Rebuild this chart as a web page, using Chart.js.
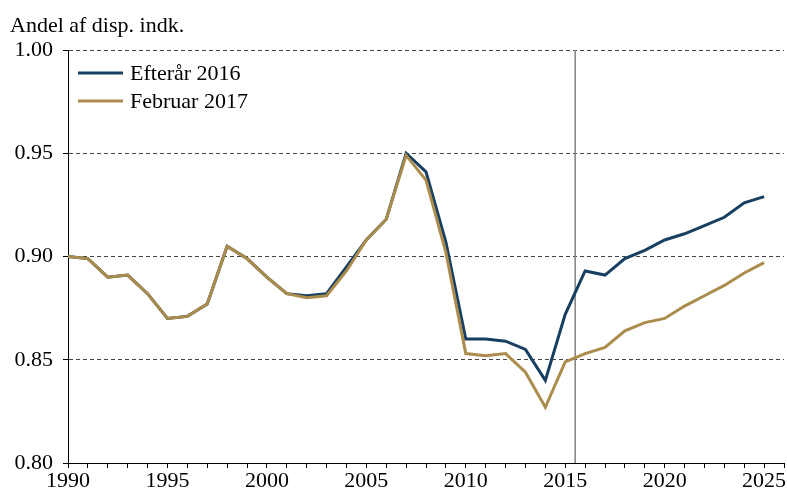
<!DOCTYPE html>
<html>
<head>
<meta charset="utf-8">
<script src="https://cdn.jsdelivr.net/npm/chart.js@4"></script>
<style>
  html, body { margin: 0; padding: 0; background: #fff; }
  #wrap { width: 787px; height: 496px; }
</style>
</head>
<body>
<div id="wrap"><canvas id="chart"></canvas></div>
<script>
// ===== DATA =====
const years = [1990, 1991, 1992, 1993, 1994, 1995, 1996, 1997, 1998, 1999,
               2000, 2001, 2002, 2003, 2004, 2005, 2006, 2007, 2008, 2009,
               2010, 2011, 2012, 2013, 2014, 2015, 2016, 2017, 2018, 2019,
               2020, 2021, 2022, 2023, 2024, 2025];

const efteraar2016 = [0.900, 0.899, 0.890, 0.891, 0.882, 0.870, 0.871, 0.877, 0.905, 0.899,
                      0.890, 0.882, 0.881, 0.882, 0.895, 0.908, 0.918, 0.950, 0.941, 0.907,
                      0.860, 0.860, 0.859, 0.855, 0.840, 0.872, 0.893, 0.891, 0.899, 0.903,
                      0.908, 0.911, 0.915, 0.919, 0.926, 0.929];

const februar2017 = [0.900, 0.899, 0.890, 0.891, 0.882, 0.870, 0.871, 0.877, 0.905, 0.899,
                     0.890, 0.882, 0.880, 0.881, 0.893, 0.908, 0.918, 0.949, 0.937, 0.902,
                     0.853, 0.852, 0.853, 0.844, 0.827, 0.849, 0.853, 0.856, 0.864, 0.868,
                     0.870, 0.876, 0.881, 0.886, 0.892, 0.897];

const seriesNames = ['Efterår 2016', 'Februar 2017'];
const yTicks = [0.80, 0.85, 0.90, 0.95, 1.00];
const xLabelYears = [1990, 1995, 2000, 2005, 2010, 2015, 2020, 2025];
const forecastStart = 2015.5;
const yTitle = 'Andel af disp. indk.';

// ===== STYLE =====
const BLUE = '#163f62';
const GOLD = '#ab8c4c';
const FONT = { family: '"Liberation Serif", "Times New Roman", serif', size: 22 };

const pts = vals => years.map((y, i) => ({ x: y, y: vals[i] }));

// legend drawn inside the plot, top-left, in dataset order
const insideLegend = {
  id: 'insideLegend',
  afterDatasetsDraw(chart) {
    const { ctx, chartArea } = chart;
    ctx.save();
    ctx.font = `${FONT.size}px ${FONT.family}`;
    ctx.textBaseline = 'middle';
    ctx.fillStyle = '#000';
    chart.data.datasets.filter(d => !d.label.startsWith('_')).forEach((d, i) => {
      const y = chartArea.top + 23 + i * 28;
      ctx.strokeStyle = d.borderColor;
      ctx.lineWidth = d.borderWidth;
      ctx.beginPath();
      ctx.moveTo(chartArea.left + 10, y);
      ctx.lineTo(chartArea.left + 55, y);
      ctx.stroke();
      ctx.fillText(d.label, chartArea.left + 62, y + 1);
    });
    ctx.restore();
  },
};

new Chart(document.getElementById('chart'), {
  type: 'line',
  data: {
    datasets: [
      {
        label: seriesNames[0],
        data: pts(efteraar2016),
        borderColor: BLUE,
        borderWidth: 3,
        pointRadius: 0,
        tension: 0,
        order: 2,
      },
      {
        label: seriesNames[1],
        data: pts(februar2017),
        borderColor: GOLD,
        borderWidth: 3,
        pointRadius: 0,
        tension: 0,
        order: 1,
      },
      {
        label: '_split',
        data: [{ x: forecastStart, y: yTicks[0] }, { x: forecastStart, y: yTicks[yTicks.length - 1] }],
        borderColor: '#808080',
        borderWidth: 1.5,
        pointRadius: 0,
        order: 3,
      },
    ],
  },
  options: {
    responsive: true,
    maintainAspectRatio: false,
    animation: false,
    layout: { padding: { left: 10, right: 3, top: 0, bottom: 0 } },
    plugins: {
      tooltip: { enabled: false },
      legend: { display: false },
      title: {
        display: true,
        text: yTitle,
        align: 'start',
        color: '#000',
        font: { ...FONT, weight: 'normal' },
        padding: { top: 13, bottom: 10.6 },
      },
    },
    scales: {
      x: {
        type: 'linear',
        min: 1990,
        max: 2026,
        afterFit: s => { s.height = 33; },
        afterBuildTicks: s => { s.ticks = years.concat([2026]).map(v => ({ value: v })); },
        ticks: {
          color: '#000',
          font: FONT,
          padding: 0,
          maxRotation: 0,
          autoSkip: false,
          callback: v => xLabelYears.includes(v) ? String(v) : '',
        },
        grid: { drawOnChartArea: false, drawTicks: true, tickLength: 5, color: '#000' },
        border: { display: true, color: '#000', width: 1 },
      },
      y: {
        min: 0.80,
        max: 1.00,
        afterFit: s => { s.width = 58; },
        afterBuildTicks: s => { s.ticks = yTicks.map(v => ({ value: v })); },
        ticks: {
          color: '#000',
          font: FONT,
          padding: 10,
          callback: v => v.toFixed(2),
        },
        grid: {
          color: '#444',
          lineWidth: 1,
          tickLength: 5,
          tickColor: '#000',
          tickBorderDash: [],
        },
        border: { display: true, color: '#000', width: 1, dash: [4, 3] },
      },
    },
  },
  plugins: [insideLegend],
});
</script>
</body>
</html>
